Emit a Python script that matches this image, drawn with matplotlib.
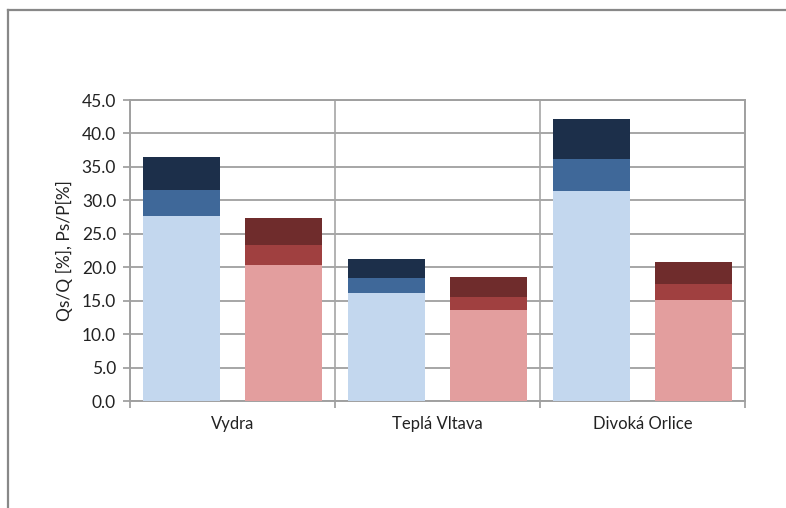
import matplotlib
matplotlib.use("Agg")
import matplotlib.pyplot as plt
from matplotlib.lines import Line2D
import numpy as np

categories = ["Vydra", "Teplá Vltava", "Divoká Orlice"]
# Qs/Q stacked segments (blue)
q_base = [27.6, 16.2, 31.4]
q_mid = [3.9, 2.2, 4.8]
q_top = [5.0, 2.8, 5.9]
# Ps/P stacked segments (red)
p_base = [20.4, 13.6, 15.1]
p_mid = [2.9, 2.0, 2.4]
p_top = [4.1, 2.9, 3.3]

yticks = np.arange(0, 46, 5)
ylabel = "Qs/Q [%], Ps/P[%]"

plt.rcParams['font.family'] = ['Lato', 'DejaVu Sans']

fig = plt.figure(figsize=(7.86, 5.08), dpi=100)
ax = fig.add_axes([130/786, 1-401/508, (745-130)/786, (401-100)/508])

x = np.arange(len(categories))
w = 0.375
off = 0.25
blue = ["#C3D7EE", "#3F6899", "#1C2F4A"]
red = ["#E39E9E", "#A04040", "#6F2C2C"]

qb = np.array(q_base); qm = np.array(q_mid); qt = np.array(q_top)
pb = np.array(p_base); pm = np.array(p_mid); pt = np.array(p_top)

ax.bar(x - off, qb, w, color=blue[0], zorder=3)
ax.bar(x - off, qm, w, bottom=qb, color=blue[1], zorder=3)
ax.bar(x - off, qt, w, bottom=qb + qm, color=blue[2], zorder=3)
ax.bar(x + off, pb, w, color=red[0], zorder=3)
ax.bar(x + off, pm, w, bottom=pb, color=red[1], zorder=3)
ax.bar(x + off, pt, w, bottom=pb + pm, color=red[2], zorder=3)

ax.set_xlim(-0.5, len(categories) - 0.5)
ax.set_ylim(0, 45)
ax.set_yticks(yticks)
ax.set_yticklabels([f"{v:.1f}" for v in yticks], fontsize=12.5, color="#222222")
ax.set_xticks(x)
ax.set_xticklabels(categories, fontsize=12, color="#222222")
ax.tick_params(axis='x', which='major', length=0, pad=11)
ax.set_xticks(np.arange(-0.5, len(categories), 1.0), minor=True)
ax.tick_params(axis='x', which='minor', length=5, color="#999999", width=1.2)
ax.tick_params(axis='y', length=5, color="#999999", width=1.2, pad=5)

ax.grid(axis='y', color="#A6A6A6", linewidth=1.4, zorder=0)
ax.grid(axis='x', which='minor', color="#A6A6A6", linewidth=1.2, zorder=0)
ax.grid(axis='x', which='major', visible=False)
for s in ax.spines.values():
    s.set_color("#A0A0A0")
    s.set_linewidth(1.4)

ax.set_ylabel(ylabel, fontsize=12.5, color="#222222", labelpad=6)

# outer frame (left and top edges visible)
fig.add_artist(Line2D([8/786, 8/786], [0, 1-10/508], transform=fig.transFigure,
                      color="#888888", linewidth=1.6))
fig.add_artist(Line2D([8/786, 1], [1-10/508, 1-10/508], transform=fig.transFigure,
                      color="#888888", linewidth=1.6))

fig.savefig("out.png", dpi=100)
